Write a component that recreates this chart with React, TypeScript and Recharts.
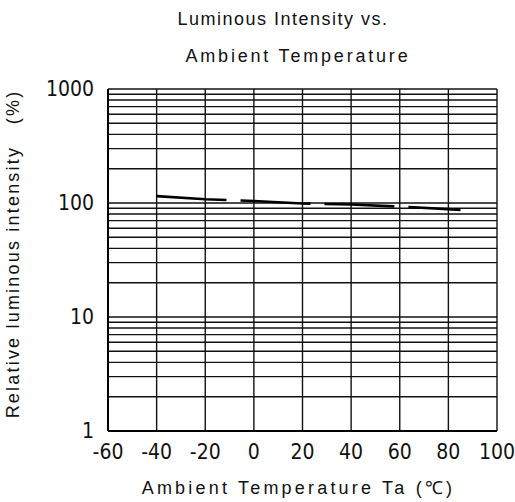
import { LineChart, Line, CartesianGrid, XAxis, YAxis, Label } from "recharts";

const temps = [-40, -20, 0, 20, 40, 60, 85];
const intensity = [115, 108, 104, 99, 97, 93, 87];

const xTicks = [-60, -40, -20, 0, 20, 40, 60, 80, 100];
const yMajor = [1, 10, 100, 1000];
const yTicks = [
  1, 2, 3, 4, 5, 6, 7, 8, 9,
  10, 20, 30, 40, 50, 60, 70, 80, 90,
  100, 200, 300, 400, 500, 600, 700, 800, 900,
  1000,
];

const data = temps.map((t, i) => ({ t, v: intensity[i] }));

const font = "'Liberation Sans', Arial, sans-serif";
const tickFont = "'DejaVu Sans Condensed', 'DejaVu Sans', sans-serif";

export default function App() {
  return (
    <div style={{ position: "relative", width: 515, height: 502, background: "#fff", fontFamily: font }}>
      <style>{`body{margin:0}`}</style>
      <div style={{ position: "absolute", left: 0, width: 566, top: 9, textAlign: "center", fontSize: 18, letterSpacing: 1.5, color: "#111" }}>
        Luminous Intensity vs.
      </div>
      <div style={{ position: "absolute", left: 0, width: 596, top: 46, textAlign: "center", fontSize: 18, letterSpacing: 2.8, color: "#111" }}>
        Ambient Temperature
      </div>
      <LineChart
        width={515}
        height={502}
        data={data}
        margin={{ top: 89, right: 18, left: 0, bottom: 0 }}
        style={{ position: "absolute", left: 0, top: 0 }}
      >
        <CartesianGrid stroke="#111" strokeWidth={1.4} />
        <XAxis
          dataKey="t"
          type="number"
          domain={[-60, 100]}
          ticks={xTicks}
          tickLine={false}
          axisLine={{ stroke: "#000", strokeWidth: 2 }}
          tick={{ fill: "#111", fontSize: 21, fontFamily: tickFont }}
          tickMargin={7}
          height={71}
          interval={0}
        >
          <Label
            value="Ambient Temperature Ta (℃)"
            position="insideBottom"
            offset={8}
            dx={-4}
            fill="#111"
            fontSize={18}
            fontFamily={font}
            letterSpacing={3.2}
          />
        </XAxis>
        <YAxis
          type="number"
          scale="log"
          domain={[1, 1000]}
          ticks={yTicks}
          allowDataOverflow
          interval={0}
          width={108}
          tickLine={false}
          axisLine={{ stroke: "#000", strokeWidth: 2 }}
          tick={{ fill: "#111", fontSize: 21, fontFamily: tickFont }}
          tickFormatter={(v: number) => (yMajor.includes(v) ? String(v) : "")}
          tickMargin={8}
        >
          <Label
            value={"Relative luminous intensity\u00a0\u00a0\u00a0(%)"}
            angle={-90}
            position="insideLeft"
            offset={13}
            dy={-6}
            fill="#111"
            fontSize={18}
            fontFamily={font}
            letterSpacing={2.2}
            style={{ textAnchor: "middle" }}
          />
        </YAxis>
        <Line
          dataKey="v"
          type="linear"
          stroke="#000"
          strokeWidth={2.6}
          strokeDasharray="70 14"
          dot={false}
          isAnimationActive={false}
        />
      </LineChart>
    </div>
  );
}
